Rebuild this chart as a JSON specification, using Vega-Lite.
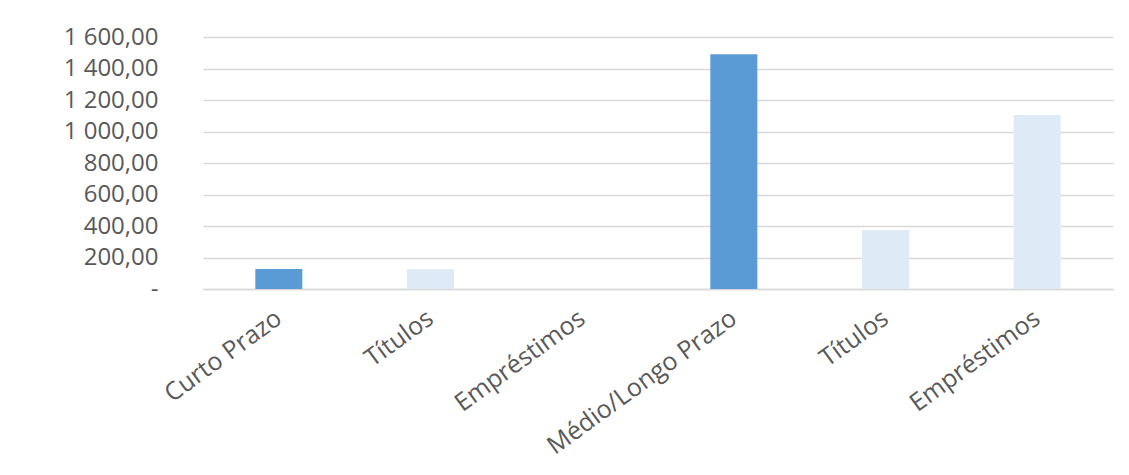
{
  "$schema": "https://vega.github.io/schema/vega-lite/v6.json",
  "autosize": {"type": "none"},
  "padding": {"left": 203, "top": 37, "right": 16, "bottom": 186},
  "width": 910,
  "height": 252,
  "background": "white",
  "data": {
    "values": [
      {"id": 1, "categoria": "Curto Prazo", "grupo": "total", "valor": 127},
      {"id": 2, "categoria": "Títulos", "grupo": "detalhe", "valor": 126},
      {"id": 3, "categoria": "Empréstimos", "grupo": "detalhe", "valor": 0},
      {"id": 4, "categoria": "Médio/Longo Prazo", "grupo": "total", "valor": 1490},
      {"id": 5, "categoria": "Títulos", "grupo": "detalhe", "valor": 375},
      {"id": 6, "categoria": "Empréstimos", "grupo": "detalhe", "valor": 1105}
    ]
  },
  "mark": {"type": "bar"},
  "encoding": {
    "x": {
      "field": "id",
      "type": "ordinal",
      "scale": {"paddingInner": 0.69, "paddingOuter": 0.345},
      "axis": {
        "title": null,
        "labelExpr": "['', 'Curto Prazo', 'Títulos', 'Empréstimos', 'Médio/Longo Prazo', 'Títulos', 'Empréstimos'][datum.value]",
        "labelAngle": -36,
        "labelAlign": "right",
        "labelBaseline": "middle",
        "labelFont": "Open Sans",
        "labelFontSize": 25,
        "labelLimit": 400,
        "labelColor": "#595959",
        "labelPadding": 26,
        "ticks": false,
        "domainColor": "#D9D9D9",
        "domainWidth": 1.5,
        "grid": false
      }
    },
    "y": {
      "field": "valor",
      "type": "quantitative",
      "scale": {"domain": [0, 1600]},
      "axis": {
        "title": null,
        "values": [0, 200, 400, 600, 800, 1000, 1200, 1400, 1600],
        "labelExpr": "datum.value == 0 ? '-       ' : replace(replace(format(datum.value, ',.2f'), ',', ' '), '.', ',')",
        "labelFont": "Open Sans",
        "labelFontSize": 24,
        "labelColor": "#595959",
        "labelPadding": 45,
        "ticks": false,
        "domain": false,
        "gridColor": "#D9D9D9",
        "gridWidth": 1.5
      }
    },
    "color": {
      "field": "grupo",
      "type": "nominal",
      "scale": {"domain": ["total", "detalhe"], "range": ["#5B9BD5", "#DEEAF6"]},
      "legend": null
    }
  },
  "config": {"view": {"stroke": null}}
}
